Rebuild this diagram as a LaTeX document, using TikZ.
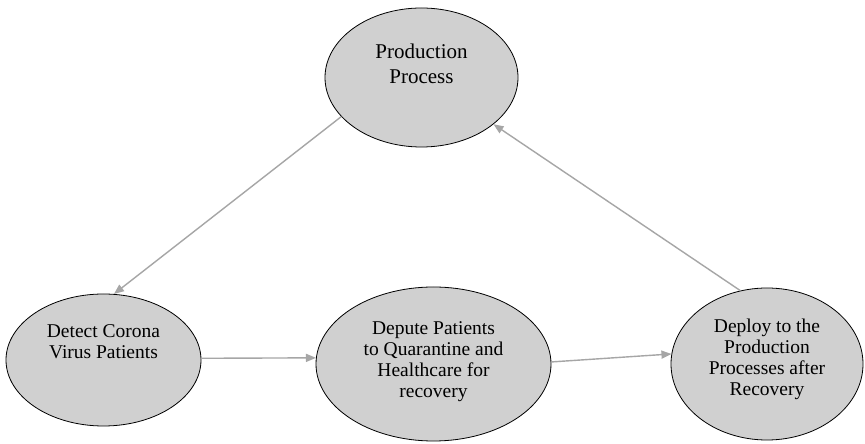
\documentclass[tikz,border=0pt]{standalone}
\usepackage{fontspec}
\setmainfont{Liberation Serif}
\usetikzlibrary{shapes.geometric,arrows.meta}
\definecolor{ellfill}{RGB}{208,208,208}
\definecolor{arrgray}{RGB}{166,166,166}
\tikzset{
  stage/.style={ellipse, draw=black, line width=0.8pt, fill=ellfill, inner sep=0pt},
  stagetext/.style={align=center, inner sep=0pt, font=\fontsize{19.5}{21}\selectfont},
  flow/.style={draw=arrgray, line width=1.4pt, -{Triangle[length=10pt,width=8pt]}}
}
\begin{document}
\begin{tikzpicture}[x=1pt,y=1pt]
\useasboundingbox (0,0) rectangle (865,444);
\fill[white] (0,0) rectangle (865,444);
\node[stage, minimum width=193pt, minimum height=139pt] (top) at (421.5,366.5) {};
\node[stage, minimum width=195pt, minimum height=132pt] (left) at (103.5,84) {};
\node[stage, minimum width=235pt, minimum height=154pt] (mid) at (433.5,80) {};
\node[stage, minimum width=192pt, minimum height=152pt] (right) at (767,80) {};
\node[stagetext, font=\fontsize{21}{25}\selectfont] (toptext) at (421.5,380.5) {Production\\Process};
\node[stagetext] (lefttext) at (103.5,102.5) {Detect Corona\\Virus Patients};
\node[stagetext] (midtext) at (433.5,82.5) {Depute Patients\\to Quarantine and\\Healthcare for\\recovery};
\node[stagetext] (righttext) at (767,84.5) {Deploy to the\\Production\\Processes after\\Recovery};
\draw[flow] (top.206.4) -- (left.81.8);
\draw[flow] (left.1) -- (mid.177);
\draw[flow] (mid.1.5) -- (right.174.6);
\draw[flow] (right.110) -- (top.327.8);
\end{tikzpicture}
\end{document}
